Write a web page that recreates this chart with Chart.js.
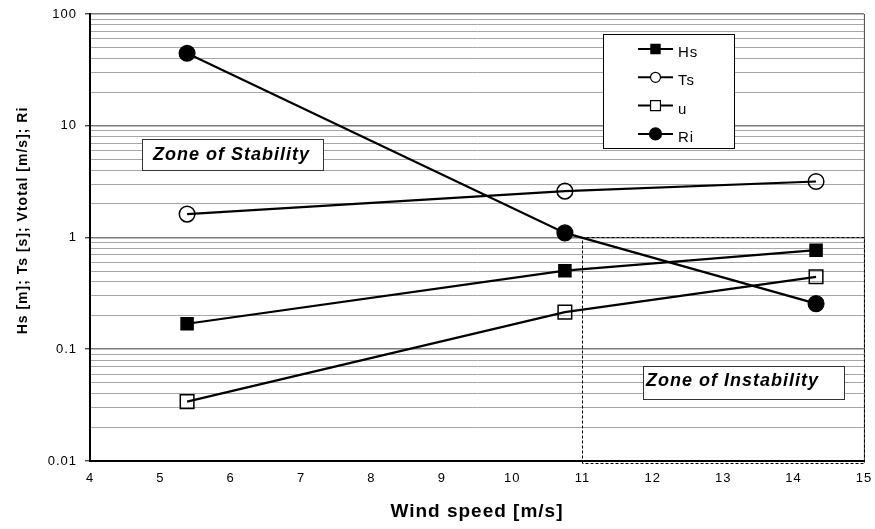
<!DOCTYPE html>
<html>
<head>
<meta charset="utf-8">
<script src="https://cdn.jsdelivr.net/npm/chart.js@4/dist/chart.umd.min.js"></script>
<style>
  html, body { margin: 0; padding: 0; background: #fff; }
  #wrap { width: 875px; height: 529px; position: relative; }
</style>
</head>
<body>
<div id="wrap"><canvas id="c" width="875" height="529"></canvas></div>
<script>
// ---- data ----
const windSpeed = [5.38, 10.75, 14.32];
const hsValues  = [0.169, 0.505, 0.77];
const tsValues  = [1.62, 2.6, 3.17];
const uValues   = [0.034, 0.215, 0.445];
const riValues  = [44.5, 1.1, 0.256];

const seriesNames = ['Hs', 'Ts', 'u', 'Ri'];
const yTickLabels = ['0.01', '0.1', '1', '10', '100'];
const xTickMin = 4, xTickMax = 15;
const yMinorMultipliers = [1, 2, 3, 4, 5, 6, 7, 8, 9];

const xTitle = 'Wind speed [m/s]';
const yTitle = 'Hs [m]; Ts [s]; Vtotal [m/s]; Ri';
const zoneStable = 'Zone of Stability';
const zoneUnstable = 'Zone of Instability';
const zoneUnstableX = [11, 15];
const zoneUnstableY = [0.01, 1];

const FONT = '"Liberation Sans", Arial, sans-serif';

function pts(vals) { return vals.map((v, i) => ({ x: windSpeed[i], y: v })); }

const styles = {
  Hs: { pointStyle: 'rect',   radius: 8.5, fill: '#000',          legendR: 6.5 },
  Ts: { pointStyle: 'circle', radius: 7.8, fill: 'rgba(0,0,0,0)', legendR: 5 },
  u:  { pointStyle: 'rect',   radius: 9.6, fill: 'rgba(0,0,0,0)', legendR: 7 },
  Ri: { pointStyle: 'circle', radius: 7.8, fill: '#000',          legendR: 6 }
};
const seriesValues = { Hs: hsValues, Ts: tsValues, u: uValues, Ri: riValues };

const datasets = seriesNames.map(n => ({
  label: n,
  data: pts(seriesValues[n]),
  borderColor: '#000',
  borderWidth: 2.2,
  pointStyle: styles[n].pointStyle,
  pointRadius: styles[n].radius,
  pointHoverRadius: styles[n].radius,
  pointBackgroundColor: styles[n].fill,
  pointBorderColor: '#000',
  pointBorderWidth: 1.5,
  showLine: true,
  fill: false,
  tension: 0
}));

function drawMarker(ctx, style, r, x, y) {
  ctx.save();
  ctx.beginPath();
  if (style.pointStyle === 'rect') {
    const s = r * Math.SQRT1_2;
    ctx.rect(x - s, y - s, 2 * s, 2 * s);
  } else {
    ctx.arc(x, y, r, 0, Math.PI * 2);
  }
  ctx.fillStyle = style.fill === '#000' ? '#000' : '#fff';
  ctx.fill();
  ctx.lineWidth = 1.2;
  ctx.strokeStyle = '#000';
  ctx.stroke();
  ctx.restore();
}

const majorValues = yTickLabels.map(parseFloat);
function isMajor(v) {
  return majorValues.some(m => Math.abs(m - v) / m < 1e-9);
}
function labelFor(v) {
  const idx = majorValues.findIndex(m => Math.abs(m - v) / m < 1e-9);
  return idx >= 0 ? yTickLabels[idx] : '';
}

const spacingPlugin = {
  id: 'spacing',
  beforeDraw(chart) { chart.ctx.letterSpacing = '1px'; },
  afterDraw(chart) { chart.ctx.letterSpacing = '0px'; }
};

const zonesPlugin = {
  id: 'zones',
  beforeDatasetsDraw(chart) {
    const { ctx, chartArea: a, scales: { x, y } } = chart;
    ctx.save();
    ctx.letterSpacing = '1px';
    // right frame
    ctx.strokeStyle = '#404040';
    ctx.lineWidth = 1;
    ctx.beginPath();
    ctx.moveTo(a.right + 0.5, a.top);
    ctx.lineTo(a.right + 0.5, a.bottom);
    ctx.stroke();

    // dashed zone of instability
    const x0 = Math.round(x.getPixelForValue(zoneUnstableX[0])) + 0.5;
    const x1 = Math.round(x.getPixelForValue(zoneUnstableX[1])) + 0.5;
    const y0 = Math.round(y.getPixelForValue(zoneUnstableY[1])) - 0.5;
    const y1 = Math.round(y.getPixelForValue(zoneUnstableY[0])) + 2.5;
    ctx.setLineDash([3, 2]);
    ctx.strokeStyle = '#000';
    ctx.beginPath();
    ctx.moveTo(x0, y1); ctx.lineTo(x0, y0); ctx.lineTo(x1, y0); ctx.lineTo(x1, y1); ctx.lineTo(x0, y1);
    ctx.stroke();
    ctx.setLineDash([]);

    // text boxes
    ctx.font = 'italic bold 18px ' + FONT;
    ctx.textBaseline = 'alphabetic';
    ctx.textAlign = 'left';
    const boxes = [
      { t: zoneStable,   bx: a.left + 52,  by: a.top + 125, bw: 181, bh: 31, tx: 11, ty: 21 },
      { t: zoneUnstable, bx: a.left + 553, by: a.top + 352, bw: 201, bh: 33, tx: 3,  ty: 20 }
    ];
    boxes.forEach(b => {
      ctx.fillStyle = '#fff';
      ctx.fillRect(b.bx, b.by, b.bw, b.bh);
      ctx.strokeStyle = '#333';
      ctx.lineWidth = 1;
      ctx.strokeRect(b.bx + 0.5, b.by + 0.5, b.bw, b.bh);
      ctx.fillStyle = '#000';
      ctx.fillText(b.t, b.bx + b.tx, b.by + b.ty);
    });
    ctx.restore();
  },
  afterDraw(chart) {
    const { ctx, chartArea: a } = chart;
    ctx.save();
    ctx.letterSpacing = '1px';
    // legend
    const lx = a.left + 513, ly = a.top + 20, lw = 131, lh = 114;
    ctx.fillStyle = '#fff';
    ctx.fillRect(lx, ly, lw, lh);
    ctx.strokeStyle = '#000';
    ctx.lineWidth = 1;
    ctx.strokeRect(lx + 0.5, ly + 0.5, lw, lh);
    ctx.font = '15px ' + FONT;
    ctx.textBaseline = 'middle';
    ctx.textAlign = 'left';
    chart.data.datasets.forEach((ds, i) => {
      const cy = ly + 15 + i * 28.3;
      const sx = lx + 35;
      ctx.strokeStyle = '#000';
      ctx.lineWidth = 2;
      ctx.beginPath();
      ctx.moveTo(sx, cy); ctx.lineTo(sx + 35, cy);
      ctx.stroke();
      drawMarker(ctx, styles[ds.label], styles[ds.label].legendR, sx + 17.5, cy);
      ctx.fillStyle = '#000';
      ctx.fillText(ds.label, sx + 40, cy + 4);
    });
    // y title
    ctx.translate(23, (a.top + a.bottom) / 2 - 17);
    ctx.rotate(-Math.PI / 2);
    ctx.font = 'bold 14px ' + FONT;
    ctx.textAlign = 'center';
    ctx.textBaseline = 'middle';
    ctx.fillText(yTitle, 0, 0);
    ctx.restore();
  }
};

new Chart(document.getElementById('c'), {
  type: 'scatter',
  data: { datasets },
  plugins: [spacingPlugin, zonesPlugin],
  options: {
    responsive: false,
    animation: false,
    events: [],
    layout: { padding: { left: 0, top: 14, right: 8, bottom: 0 } },
    plugins: { legend: { display: false }, tooltip: { enabled: false } },
    scales: {
      x: {
        type: 'linear',
        min: xTickMin, max: xTickMax,
        ticks: { stepSize: 1, color: '#000', font: { family: FONT, size: 13 }, padding: 10, maxRotation: 0 },
        grid: { display: true, drawOnChartArea: false, drawTicks: false },
        border: { display: true, color: '#000', width: 2 },
        title: { display: true, text: xTitle, color: '#000', font: { family: FONT, size: 19, weight: 'bold' }, padding: { top: 0, bottom: 6 } },
        afterFit(scale) {
          scale.height = 68;
          scale.paddingLeft = 0;
          scale.paddingRight = 0;
        }
      },
      y: {
        type: 'logarithmic',
        min: 0.01, max: 100,
        afterBuildTicks(scale) {
          const t = [];
          majorValues.forEach((m, i) => {
            if (i === majorValues.length - 1) { t.push({ value: m, major: true }); return; }
            yMinorMultipliers.forEach(k => t.push({ value: m * k, major: k === 1 }));
          });
          scale.ticks = t;
        },
        ticks: {
          autoSkip: false,
          color: '#000',
          font: { family: FONT, size: 13 },
          padding: 8,
          callback: (v) => labelFor(v)
        },
        grid: {
          color: c => (c.tick && isMajor(c.tick.value)) ? '#7a7a7a' : '#a6a6a6',
          lineWidth: c => (c.tick && isMajor(c.tick.value)) ? 1.6 : 1,
          tickColor: c => (c.tick && isMajor(c.tick.value)) ? '#000' : 'rgba(0,0,0,0)',
          tickWidth: 1,
          tickLength: 5,
          drawTicks: true
        },
        border: { display: true, color: '#000', width: 2 },
        afterFit(scale) {
          scale.width = 90;
          scale.paddingTop = 0;
          scale.paddingBottom = 0;
        }
      }
    }
  }
});
</script>
</body>
</html>
